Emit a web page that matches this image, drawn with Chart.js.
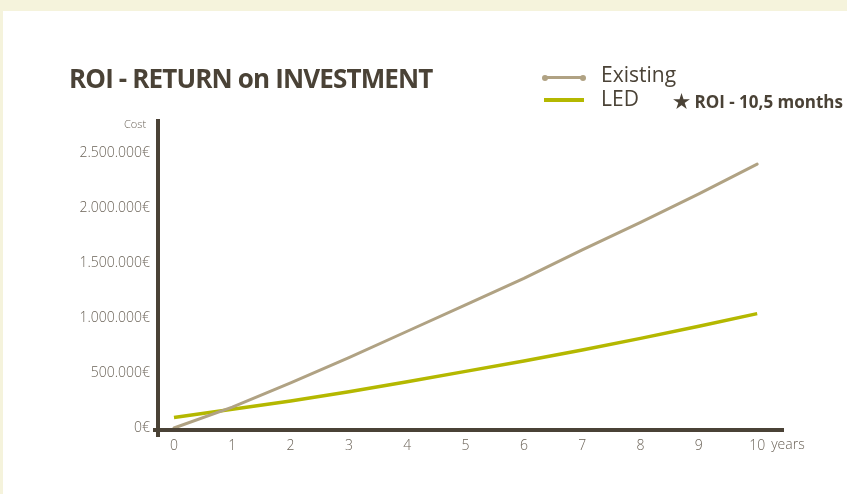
<!DOCTYPE html>
<html>
<head>
<meta charset="utf-8">
<script src="https://cdn.jsdelivr.net/npm/chart.js@4"></script>
<style>
  html, body { margin: 0; padding: 0; }
  body { width: 847px; height: 494px; background: #f5f3dc; position: relative; overflow: hidden; font-family: "Open Sans", sans-serif; }
  #card { position: absolute; left: 3px; top: 11px; right: 0; bottom: 0; background: #fff; }
  #wrap { position: absolute; left: 0; top: 0; width: 847px; height: 494px; }
  .title { position: absolute; left: 69px; top: 60px; font-size: 26px; font-weight: 700; color: #4a4236; letter-spacing: -0.85px; white-space: nowrap; }
  .lg { position: absolute; color: #4a4236; white-space: nowrap; }
  .sw { position: absolute; left: 544px; width: 40px; }
  .dot { position: absolute; width: 6px; height: 6px; border-radius: 3px; background: #b0a283; }
  .cost { position: absolute; left: 124px; top: 116px; font-size: 11px; font-weight: 300; color: #6b6358; }
</style>
</head>
<body>
<div id="card"></div>
<div id="wrap"><canvas id="myChart" width="847" height="494"></canvas></div>
<div class="title">ROI - RETURN on INVESTMENT</div>
<div class="sw" style="top:76px;height:3px;background:#b0a283;"></div>
<div class="dot" style="left:542px;top:74.5px;"></div>
<div class="dot" style="left:580px;top:74.5px;"></div>
<div class="lg" style="left:601px;top:60px;font-size:21px;">Existing</div>
<div class="sw" style="top:98px;height:4px;background:#b4b800;"></div>
<div class="lg" style="left:601px;top:84px;font-size:21px;">LED</div>
<div class="lg" style="left:673px;top:88px;font-size:17px;font-weight:700;"><span style="font-size:19px;">★</span> ROI - 10,5 months</div>
<div class="cost">Cost</div>
<script>
const years = [0, 1, 2, 3, 4, 5, 6, 7, 8, 9, 10];
const existing = [0, 190000, 410000, 640000, 880000, 1120000, 1360000, 1620000, 1870000, 2130000, 2400000];
const led = [95000, 170000, 245000, 330000, 420000, 515000, 610000, 710000, 815000, 925000, 1040000];
const yTicks = [0, 500000, 1000000, 1500000, 2000000, 2500000];

const axisColor = '#4a4236';
const labelColor = '#6b6358';

function euro(v) {
  return String(v).replace(/\B(?=(\d{3})+(?!\d))/g, '.') + '€';
}

// axes drawn by hand so the ends overshoot like the original
const axesPlugin = {
  id: 'axes',
  afterDatasetsDraw(chart) {
    const c = chart.ctx;
    const a = chart.chartArea;
    c.save();
    c.strokeStyle = axisColor;
    c.lineWidth = 4;
    c.beginPath();
    c.moveTo(a.left - 5, a.bottom);
    c.lineTo(a.right, a.bottom);
    c.moveTo(a.left, a.top);
    c.lineTo(a.left, a.bottom + 7);
    c.stroke();
    // "years" after the last tick
    const x = chart.scales.x.getPixelForValue(10);
    c.font = '300 14px "Open Sans"';
    c.fillStyle = labelColor;
    c.textBaseline = 'middle';
    c.fillText('years', x + 14, a.bottom + 15);
    c.restore();
  }
};

const ctx = document.getElementById('myChart');
new Chart(ctx, {
  type: 'line',
  data: {
    labels: years,
    datasets: [
      { label: 'Existing', data: years.map((y, i) => ({ x: y, y: existing[i] })), borderColor: '#b0a283', borderWidth: 3, borderCapStyle: 'round', pointRadius: 0, tension: 0 },
      { label: 'LED', data: years.map((y, i) => ({ x: y, y: led[i] })), borderColor: '#b4b800', borderWidth: 3.5, pointRadius: 0, tension: 0 }
    ]
  },
  options: {
    responsive: false,
    animation: false,
    layout: { padding: { left: 0, top: 119, right: 63, bottom: 34 } },
    plugins: { legend: { display: false }, tooltip: { enabled: false } },
    scales: {
      x: {
        type: 'linear',
        min: -0.274,
        max: 10.46,
        grid: { display: false },
        border: { display: false },
        afterBuildTicks(s) { s.ticks = years.map(v => ({ value: v })); },
        afterFit(s) { s.height = 30; },
        ticks: { color: labelColor, font: { family: 'Open Sans', size: 14, weight: 300 }, padding: 0, maxRotation: 0 }
      },
      y: {
        min: -18000,
        max: 2810000,
        grid: { display: false },
        border: { display: false },
        afterBuildTicks(s) { s.ticks = yTicks.map(v => ({ value: v })); },
        afterFit(s) { s.width = 158; },
        ticks: { color: labelColor, font: { family: 'Open Sans', size: 14, weight: 300 }, padding: 0, callback: v => euro(v) }
      }
    }
  },
  plugins: [axesPlugin]
});
</script>
</body>
</html>
